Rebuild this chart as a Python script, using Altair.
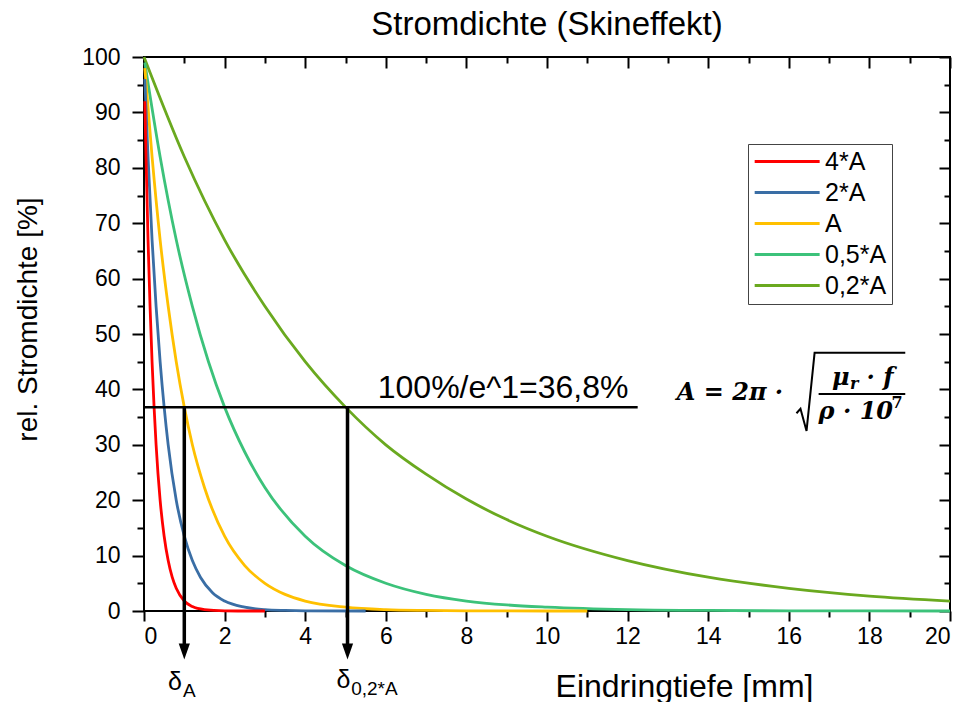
import altair as alt
import pandas as pd

# ---------------- data ----------------
series_names = ["4*A", "2*A", "A", "0,5*A", "0,2*A"]
series_colors = ["#ff0000", "#3a6ea5", "#ffc000", "#3cc27a", "#6aa91f"]

red_x = [0.02, 0.05, 0.1, 0.15, 0.2, 0.25, 0.3, 0.4, 0.5, 0.6, 0.7, 0.8, 1.0, 1.2, 1.5, 2.0, 2.5, 3.0]
red_y = [92, 82, 67, 55, 45, 36.8, 30, 20, 13.5, 9.1, 6.1, 4.1, 1.8, 0.8, 0.25, 0.03, 0.0, 0.0]

blue_x = [0.02, 0.1, 0.2, 0.3, 0.4, 0.5, 0.6, 0.8, 1.0, 1.2, 1.4, 1.7, 2.0, 2.5, 3.0, 3.5, 4.0, 5.5]
blue_y = [96, 82, 67, 55, 45, 36.8, 30, 20, 13.5, 9.1, 6.1, 3.3, 1.8, 0.7, 0.25, 0.1, 0.03, 0.0]

yellow_x = [0.02, 0.2, 0.4, 0.6, 0.8, 1.0, 1.2, 1.5, 2.0, 2.5, 3.0, 3.5, 4.0, 5.0, 6.0, 7.0, 8.0, 9.0, 11.0]
yellow_y = [98, 82, 67, 55, 45, 36.8, 30, 22.3, 13.5, 8.2, 5.0, 3.0, 1.8, 0.7, 0.25, 0.1, 0.03, 0.01, 0.0]

green_x = [0.02, 0.4, 0.8, 1.2, 1.6, 2.0, 2.5, 3.0, 4.0, 5.0, 6.0, 7.0, 8.0, 9.0, 10.0, 12.0, 14.0, 16.0, 20.0]
green_y = [99, 82, 67, 55, 45, 36.8, 28.7, 22.3, 13.5, 8.2, 5.0, 3.0, 1.8, 1.1, 0.7, 0.25, 0.1, 0.03, 0.0]

olive_x = [0.0, 1, 2, 3, 4, 5, 6, 7, 8, 9, 10, 12, 14, 16, 18, 20]
olive_y = [100, 82, 67, 55, 45, 36.8, 30, 24.7, 20.2, 16.5, 13.5, 9.1, 6.1, 4.1, 2.7, 1.8]

x_major = [0, 2, 4, 6, 8, 10, 12, 14, 16, 18, 20]
x_minor = [1, 3, 5, 7, 9, 11, 13, 15, 17, 19]
y_major = [0, 10, 20, 30, 40, 50, 60, 70, 80, 90, 100]
y_minor = [5, 15, 25, 35, 45, 55, 65, 75, 85, 95]

level_value = 36.8
level_end = 12.25
delta_depths = [1.0, 5.05]

rows = []
for name, xs, ys in zip(series_names,
                        [red_x, blue_x, yellow_x, green_x, olive_x],
                        [red_y, blue_y, yellow_y, green_y, olive_y]):
    for xv, yv in zip(xs, ys):
        rows.append({"series": name, "depth": xv, "density": yv})
df = pd.DataFrame(rows)

W, H = 806, 554
SANS = "Liberation Sans"
SERIF = "DejaVu Serif"

xs_ = alt.Scale(domain=[0, 20], nice=False, zero=False)
ys_ = alt.Scale(domain=[0, 100], nice=False, zero=False)
cscale = alt.Scale(domain=series_names, range=series_colors)


def axis_layer(xaxis, yaxis):
    return alt.Chart(df).mark_point(opacity=0, size=1).encode(
        x=alt.X("depth:Q", scale=xs_, axis=xaxis),
        y=alt.Y("density:Q", scale=ys_, axis=yaxis),
    )


common = dict(grid=False, domain=False, tickColor="black", tickWidth=2)

ax_bottom = alt.Axis(orient="bottom", values=x_major, tickSize=10, labelFont=SANS,
                     labelFontSize=23, labelPadding=4, labelColor="black",
                     title="Eindringtiefe [mm]", titleFont=SANS, titleFontSize=32,
                     titleFontWeight="normal", titleColor="black", titleX=540, titleY=75,
                     titleAlign="center", titleBaseline="middle", **common)
ax_left = alt.Axis(orient="left", values=y_major, tickSize=12, labelFont=SANS,
                   labelFontSize=23, labelPadding=12, labelColor="black",
                   title="rel. Stromdichte [%]", titleFont=SANS, titleFontSize=28,
                   titleFontWeight="normal", titleColor="black", titleX=-116, titleY=262,
                   titleAngle=270, titleAlign="center", titleBaseline="middle", **common)
ax_bottom_minor = alt.Axis(orient="bottom", values=x_minor, tickSize=6, labels=False, title="", **common)
ax_left_minor = alt.Axis(orient="left", values=y_minor, tickSize=7, labels=False, title="", **common)
ax_top = alt.Axis(orient="bottom", offset=-H, values=x_major, tickSize=11, labels=False, title="", **common)
ax_top_minor = alt.Axis(orient="bottom", offset=-H, values=x_minor, tickSize=6, labels=False, title="", **common)
ax_right = alt.Axis(orient="left", offset=-W, values=y_major, tickSize=11, labels=False, title="", **common)
ax_right_minor = alt.Axis(orient="left", offset=-W, values=y_minor, tickSize=6, labels=False, title="", **common)

layers = [
    axis_layer(ax_bottom, ax_left),
    axis_layer(ax_bottom_minor, ax_left_minor),
    axis_layer(ax_top, ax_right),
    axis_layer(ax_top_minor, ax_right_minor),
]

# legend symbol: a line segment drawn to the right of its nominal (small) symbol box
legend = alt.Legend(orient="none", legendX=604, legendY=87,
                    symbolType="M -1 0 L 5 0", symbolSize=469, symbolStrokeWidth=2.8,
                    symbolFillColor="transparent",
                    labelFont=SANS, labelFontSize=25, labelColor="black", labelOffset=47,
                    strokeColor="#444", fillColor="white", padding=5, rowPadding=5)

for name in reversed(series_names):
    layers.append(
        alt.Chart(df).transform_filter(alt.datum.series == name).mark_line(
            strokeWidth=2.8, interpolate="monotone"
        ).encode(
            x=alt.X("depth:Q", scale=xs_, axis=None),
            y=alt.Y("density:Q", scale=ys_, axis=None),
            color=alt.Color("series:N", scale=cscale, legend=legend, title=None),
            order=alt.Order("depth:Q"),
        )
    )

# 36.8 % level line
level_df = pd.DataFrame({"x": [0.0], "x2": [level_end], "y": [level_value]})
layers.append(alt.Chart(level_df).mark_rule(color="black", strokeWidth=2.5).encode(
    x=alt.X("x:Q", scale=xs_, axis=None), x2="x2:Q",
    y=alt.Y("y:Q", scale=ys_, axis=None)))

# arrows for the penetration depths
arrow_df = pd.DataFrame({"x": delta_depths, "top": [level_value] * 2,
                         "bot": [-6.0] * 2, "head": [-7.3] * 2})
layers.append(alt.Chart(arrow_df).mark_rule(color="black", strokeWidth=3.5).encode(
    x=alt.X("x:Q", scale=xs_, axis=None),
    y=alt.Y("top:Q", scale=ys_, axis=None), y2="bot:Q"))
layers.append(alt.Chart(arrow_df).mark_point(
    shape="M -0.7 -1 L 0.7 -1 L 0 1 Z", filled=True, color="black", opacity=1, size=256
).encode(x=alt.X("x:Q", scale=xs_, axis=None), y=alt.Y("head:Q", scale=ys_, axis=None)))

# text annotations
def text_layer(txt, x, y, size, align="left", font=SANS, weight="normal", style="normal"):
    d = pd.DataFrame({"x": [x], "y": [y], "t": [txt]})
    return alt.Chart(d).mark_text(align=align, baseline="alphabetic", fontSize=size,
                                  font=font, fontWeight=weight, fontStyle=style,
                                  color="black").encode(
        x=alt.X("x:Q", scale=xs_, axis=None), y=alt.Y("y:Q", scale=ys_, axis=None),
        text="t:N")

layers += [
    text_layer("100%/e^1=36,8%", 5.80, 38.4, 32),
    text_layer("δ", 0.94, -14.3, 25, align="right"),
    text_layer("A", 0.97, -15.5, 19),
    text_layer("δ", 5.12, -13.9, 25, align="right"),
    text_layer("0,2*A", 5.14, -15.1, 19),
    text_layer("A =  2π ·", 13.22, 38.1, 24, font=SERIF, weight="bold", style="italic"),
    text_layer("μ", 17.51, 40.8, 24, align="right", font=SERIF, weight="bold", style="italic"),
    text_layer("r", 17.52, 40.0, 16, font=SERIF, weight="bold", style="italic"),
    text_layer("· f", 17.93, 40.8, 24, font=SERIF, weight="bold", style="italic"),
    text_layer("ρ · 10", 16.74, 34.7, 24, font=SERIF, weight="bold", style="italic"),
    text_layer("7", 18.55, 36.6, 16, font=SERIF, weight="bold"),
]

# fraction bar and radical sign of the formula
bar_df = pd.DataFrame({"x": [16.74], "x2": [18.89], "y": [39.17]})
layers.append(alt.Chart(bar_df).mark_rule(color="black", strokeWidth=2).encode(
    x=alt.X("x:Q", scale=xs_, axis=None), x2="x2:Q", y=alt.Y("y:Q", scale=ys_, axis=None)))
rad_df = pd.DataFrame({"x": [16.19, 16.29, 16.44, 16.64, 18.89],
                       "y": [35.7, 36.5, 32.5, 46.6, 46.6], "o": [0, 1, 2, 3, 4]})
layers.append(alt.Chart(rad_df).mark_line(color="black", strokeWidth=2).encode(
    x=alt.X("x:Q", scale=xs_, axis=None), y=alt.Y("y:Q", scale=ys_, axis=None),
    order="o:Q"))

chart = alt.layer(*layers).resolve_axis(x="independent", y="independent").properties(
    width=W, height=H,
    title=alt.TitleParams("Stromdichte (Skineffekt)", font=SANS, fontSize=33,
                          fontWeight="normal", color="black", anchor="middle", offset=4),
    autosize=alt.AutoSizeParams(type="none"),
    padding={"left": 136, "top": 49, "right": 10, "bottom": 96},
    background="white",
).configure_view(stroke="black", strokeWidth=2)

chart.save("out.html", embed_options={"renderer": "svg", "actions": False})
